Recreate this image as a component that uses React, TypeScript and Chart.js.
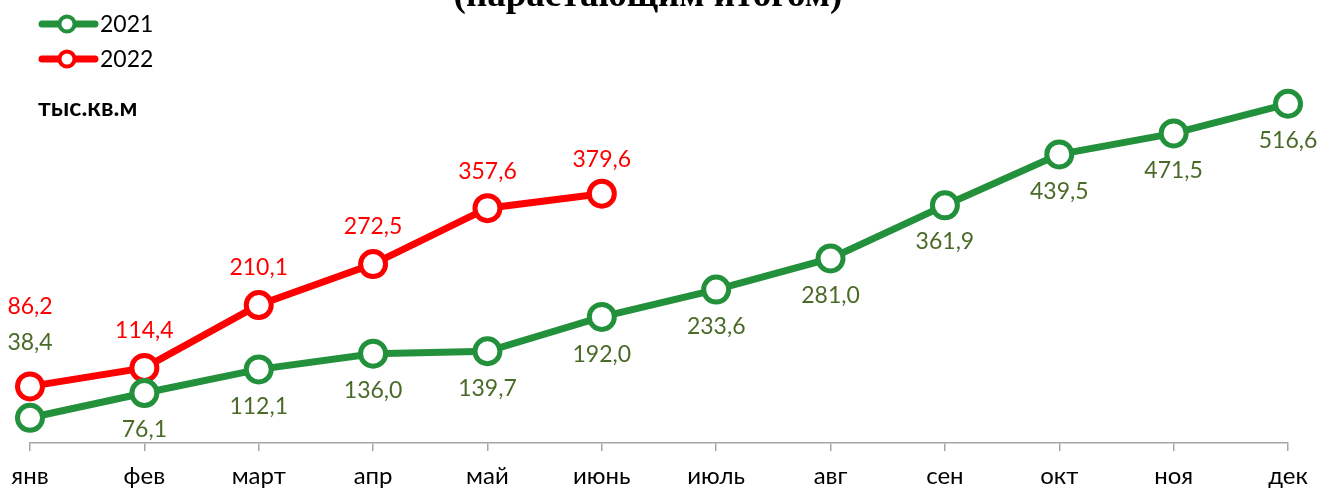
import React, { useEffect, useRef } from "react";
import { Chart, registerables } from "chart.js";

Chart.register(...registerables);

const months = ["янв", "фев", "март", "апр", "май", "июнь", "июль", "авг", "сен", "окт", "ноя", "дек"];
const values2021 = [38.4, 76.1, 112.1, 136.0, 139.7, 192.0, 233.6, 281.0, 361.9, 439.5, 471.5, 516.6];
const values2022 = [86.2, 114.4, 210.1, 272.5, 357.6, 379.6];
const seriesNames = ["2021", "2022"];
const titleText = "(нарастающим итогом)";
const unitText = "тыс.кв.м";

const GREEN = "#23913c";
const GREEN_TEXT = "#4a6a28";
const RED = "#ff0000";

// label vertical offsets (style)
const labelOffsets2021 = [-75, 37, 37, 37, 37, 38, 37, 37, 36, 37, 37, 37];
const labelOffsets2022 = [-80, -37, -37, -37, -37, -34];

const fmt = (v: number) => v.toFixed(1).replace(".", ",");

const decorPlugin = {
  id: "decor",
  afterDatasetsDraw(chart: any) {
    const ctx = chart.ctx;
    ctx.save();
    // data labels
    const offs = [labelOffsets2021, labelOffsets2022];
    const cols = [GREEN_TEXT, RED];
    chart.data.datasets.forEach((ds: any, di: number) => {
      const meta = chart.getDatasetMeta(di);
      ctx.font = "23px Lato";
      ctx.fillStyle = cols[di];
      ctx.textAlign = "center";
      ctx.textBaseline = "middle";
      meta.data.forEach((pt: any, i: number) => {
        ctx.fillText(fmt(ds.data[i]), pt.x, pt.y + offs[di][i]);
      });
    });
    // title (cut at top)
    ctx.font = "bold 37px 'Liberation Serif'";
    ctx.fillStyle = "#000";
    ctx.textAlign = "center";
    ctx.textBaseline = "alphabetic";
    ctx.fillText(titleText, 648, 6);
    // unit
    ctx.font = "bold 25px Lato";
    ctx.textAlign = "left";
    ctx.textBaseline = "middle";
    ctx.fillText(unitText, 38, 108);
    // legend
    const legendY = [24, 59];
    const legendCols = [GREEN, RED];
    legendY.forEach((y, i) => {
      ctx.strokeStyle = legendCols[i];
      ctx.lineWidth = 7;
      ctx.lineCap = "round";
      ctx.beginPath();
      ctx.moveTo(42, y);
      ctx.lineTo(95, y);
      ctx.stroke();
      ctx.beginPath();
      ctx.arc(67, y, 7.5, 0, Math.PI * 2);
      ctx.fillStyle = "#fff";
      ctx.fill();
      ctx.lineWidth = 4;
      ctx.stroke();
      ctx.fillStyle = "#000";
      ctx.font = "23px Lato";
      ctx.textAlign = "left";
      ctx.textBaseline = "middle";
      ctx.fillText(seriesNames[i], 100, y + 1);
    });
    ctx.restore();
  },
};

export default function App() {
  const ref = useRef<HTMLCanvasElement | null>(null);
  useEffect(() => {
    if (!ref.current) return;
    const chart = new Chart(ref.current, {
      type: "line",
      data: {
        labels: months,
        datasets: [
          {
            label: seriesNames[0],
            data: values2021,
            borderColor: GREEN,
            backgroundColor: "#fff",
            borderWidth: 7,
            pointRadius: 12.5,
            pointBorderWidth: 5,
            pointBackgroundColor: "#fff",
            pointBorderColor: GREEN,
            tension: 0,
          },
          {
            label: seriesNames[1],
            data: values2022,
            borderColor: RED,
            backgroundColor: "#fff",
            borderWidth: 7,
            pointRadius: 12.5,
            pointBorderWidth: 5,
            pointBackgroundColor: "#fff",
            pointBorderColor: RED,
            tension: 0,
          },
        ],
      },
      options: {
        animation: false,
        responsive: true,
        maintainAspectRatio: false,
        layout: { padding: { left: 30, right: 32, top: 49, bottom: 0 } },
        plugins: { legend: { display: false }, tooltip: { enabled: false }, title: { display: false } },
        scales: {
          x: {
            offset: false,
            afterFit: (s: any) => {
              s.height = 45;
            },
            grid: { drawOnChartArea: false, drawTicks: true, tickLength: 8, color: "#a6a6a6", lineWidth: 1.5 },
            border: { display: true, color: "#a6a6a6", width: 1.5 },
            ticks: { color: "#000", font: { family: "Lato", size: 24 }, padding: 11, maxRotation: 0, autoSkip: false },
          },
          y: { display: false, min: 0, max: 600 },
        },
      },
      plugins: [decorPlugin],
    });
    return () => chart.destroy();
  }, []);
  return (
    <div style={{ position: "fixed", left: 0, top: 0, width: 1320, height: 488, background: "#fff" }}>
      <canvas ref={ref} />
    </div>
  );
}
